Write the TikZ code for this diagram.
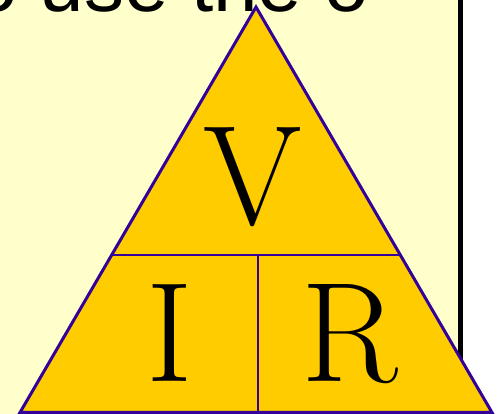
\documentclass[tikz,border=0pt]{standalone}
\usepackage{fontspec}
\setsansfont{Liberation Sans}
\usetikzlibrary{calc}
\definecolor{bgyellow}{HTML}{FFFFCC}
\definecolor{trifill}{HTML}{FFCC00}
\definecolor{edgecol}{HTML}{330099}
\begin{document}
\begin{tikzpicture}[x=1pt,y=1pt,
  letter/.style={anchor=base,inner sep=0pt,font=\fontsize{142}{142}\selectfont},
  outline/.style={fill=trifill,draw=edgecol,line width=3pt,line join=miter},
  divider/.style={draw=edgecol,line width=1.8pt}]
\useasboundingbox (0,0) rectangle (498,414);
\clip (0,0) rectangle (498,414);
\fill[white] (0,0) rectangle (498,414);
\fill[bgyellow] (0,0) rectangle (458,414);
\fill[black] (458,0) rectangle (463,414);
\node[anchor=base west,inner sep=0pt,font=\sffamily\fontsize{80}{80}\selectfont] (title) at (-27,402.5) {o use the o};
\coordinate (apex) at (256,407);
\coordinate (bl) at (20,1.5);
\coordinate (br) at (492,1.5);
\coordinate (ml) at ($(bl)!0.3884!(apex)$);
\coordinate (mr) at ($(br)!0.3884!(apex)$);
\coordinate (mm) at (258,159);
\coordinate (mb) at (258,1.5);
\fill[trifill] (apex) -- (bl) -- (br) -- cycle;
\draw[divider] (ml) -- (mr);
\draw[divider] (mm) -- (mb);
\path[outline,fill=none] (apex) -- (bl) -- (br) -- cycle;
\node[letter] (V) at (253,189) {V};
\node[letter] (I) at (170,32) {I};
\node[letter] (R) at (350,32) {R};
\end{tikzpicture}
\end{document}
